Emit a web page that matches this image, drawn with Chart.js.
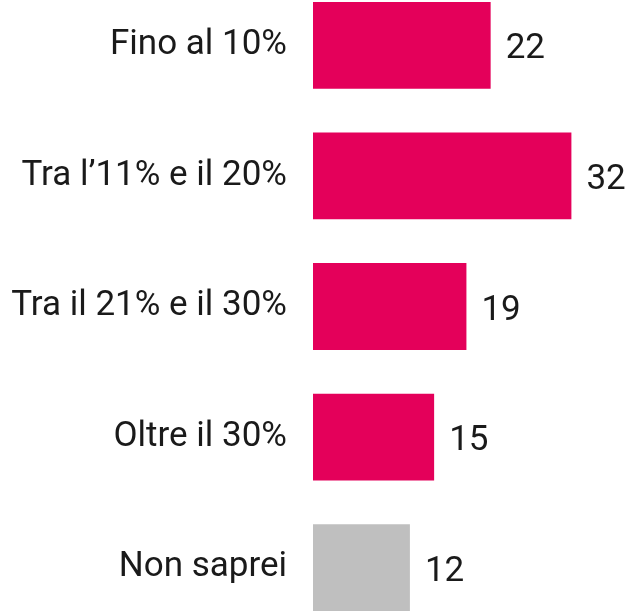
<!DOCTYPE html>
<html>
<head>
<meta charset="utf-8">
<script src="https://cdn.jsdelivr.net/npm/chart.js@4"></script>
<style>
  html, body { margin: 0; padding: 0; background: #fff; overflow: hidden; }
  #wrap { position: absolute; left: 0; top: -20px; width: 641px; height: 653px; }
</style>
</head>
<body>
<div id="wrap"><canvas id="myChart"></canvas></div>
<script>
// dati del grafico
const categorie = ['Fino al 10%', 'Tra l\u201911% e il 20%', 'Tra il 21% e il 30%', 'Oltre il 30%', 'Non saprei'];
const valori = [22, 32, 19, 15, 12];
const colori = ['#E4005A', '#E4005A', '#E4005A', '#E4005A', '#BFBFBF'];

const fontTesto = { family: 'Roboto, "Open Sans", sans-serif', size: 35, weight: 'normal' };

// etichette con il valore a destra della barra
const etichetteValori = {
    id: 'etichetteValori',
    afterDatasetsDraw(chart) {
        const ctx = chart.ctx;
        const meta = chart.getDatasetMeta(0);
        ctx.save();
        ctx.font = fontTesto.weight + ' ' + fontTesto.size + 'px ' + fontTesto.family;
        ctx.fillStyle = '#1a1a1a';
        ctx.textAlign = 'left';
        ctx.textBaseline = 'alphabetic';
        meta.data.forEach(function (bar, i) {
            ctx.fillText(String(valori[i]), bar.x + 15, bar.y + 13);
        });
        ctx.restore();
    }
};

const ctx = document.getElementById('myChart');
const myChart = new Chart(ctx, {
    type: 'bar',
    data: {
        labels: categorie,
        datasets: [{
            data: valori,
            backgroundColor: colori,
            borderWidth: 0,
            barPercentage: 0.665,
            categoryPercentage: 1
        }]
    },
    options: {
        indexAxis: 'y',
        responsive: true,
        maintainAspectRatio: false,
        animation: false,
        layout: { padding: { top: 0, bottom: 0, left: 0, right: 5 } },
        plugins: {
            legend: { display: false },
            tooltip: { enabled: false }
        },
        scales: {
            x: {
                display: false,
                min: 0,
                max: 40
            },
            y: {
                grid: { display: false, drawTicks: false },
                border: { display: false },
                ticks: {
                    color: '#1a1a1a',
                    font: fontTesto,
                    padding: 26
                },
                afterFit: function (scale) {
                    scale.width = 313;
                    scale.paddingTop = 0;
                    scale.paddingBottom = 0;
                }
            }
        }
    },
    plugins: [etichetteValori]
}); //fin del chart
</script>
</body>
</html>
